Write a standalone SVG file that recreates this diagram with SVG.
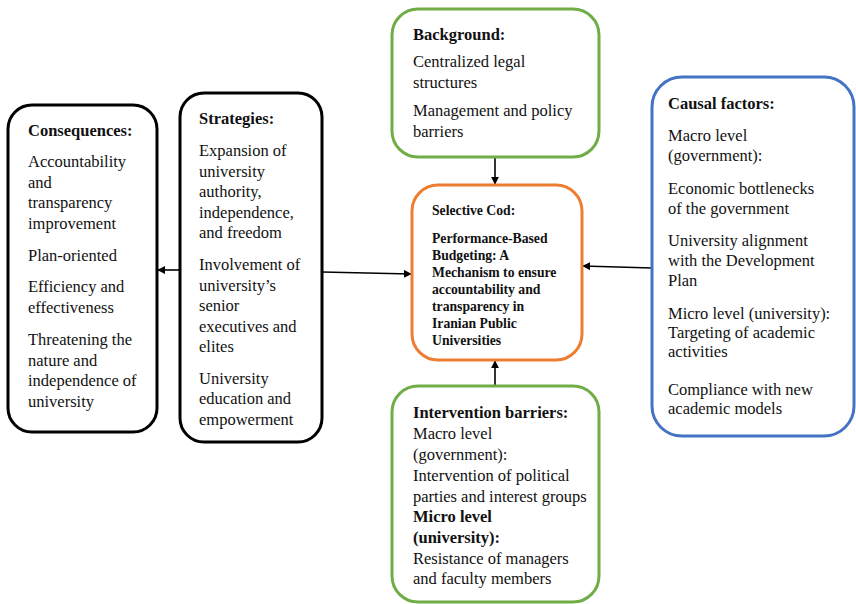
<svg xmlns="http://www.w3.org/2000/svg" width="856" height="604" viewBox="0 0 856 604">
<defs>
<style>
text{font-family:"Liberation Serif","Times New Roman",serif;font-size:16.5px;fill:#111}
.b{font-weight:bold}
.s{font-size:13.7px;font-weight:bold}
.box{fill:#fff;stroke-width:3}
.k{stroke:#000}
.g{stroke:#70AD47}
.o{stroke:#ED7D31}
.bl{stroke:#4472C4}
.c{stroke:#000;stroke-width:1.6;fill:none;marker-end:url(#ah)}
</style>
<marker id="ah" viewBox="0 0 10 10" refX="9" refY="5" markerWidth="5" markerHeight="5" orient="auto" markerUnits="strokeWidth"><path d="M0,0 L10,5 L0,10 z" fill="#000"/></marker>
</defs>
<rect width="856" height="604" fill="#fff"/>
<g id="connectors">
<line class="c" x1="495" y1="158" x2="495" y2="184"/>
<line class="c" x1="495" y1="385" x2="495" y2="361"/>
<line class="c" x1="652" y1="268" x2="583" y2="266"/>
<line class="c" x1="322" y1="272" x2="411" y2="274"/>
<line class="c" x1="180" y1="270" x2="158" y2="270"/>
</g>
<g id="consequences">
<rect class="box k" x="8" y="105" width="149" height="327" rx="24"/>
<text x="28" y="136" class="b">Consequences:</text>
<text x="28" y="167">Accountability</text>
<text x="28" y="188">and</text>
<text x="28" y="208">transparency</text>
<text x="28" y="229">improvement</text>
<text x="28" y="261">Plan-oriented</text>
<text x="28" y="292">Efficiency and</text>
<text x="28" y="313">effectiveness</text>
<text x="28" y="345">Threatening the</text>
<text x="28" y="366">nature and</text>
<text x="28" y="386">independence of</text>
<text x="28" y="407">university</text>
</g>
<g id="strategies">
<rect class="box k" x="180" y="93" width="142" height="349" rx="24"/>
<text x="199" y="124" class="b">Strategies:</text>
<text x="199" y="156">Expansion of</text>
<text x="199" y="177">university</text>
<text x="199" y="197">authority,</text>
<text x="199" y="218">independence,</text>
<text x="199" y="238">and freedom</text>
<text x="199" y="270">Involvement of</text>
<text x="199" y="291">university’s</text>
<text x="199" y="311">senior</text>
<text x="199" y="332">executives and</text>
<text x="199" y="352">elites</text>
<text x="199" y="384">University</text>
<text x="199" y="404">education and</text>
<text x="199" y="425">empowerment</text>
</g>
<g id="background">
<rect class="box g" x="392" y="9" width="207" height="148" rx="26"/>
<text x="413" y="40" class="b">Background:</text>
<text x="413" y="67">Centralized legal</text>
<text x="413" y="88">structures</text>
<text x="413" y="116">Management and policy</text>
<text x="413" y="137">barriers</text>
</g>
<g id="selective">
<rect class="box o" x="412" y="185" width="170" height="175" rx="26"/>
<text x="432" y="215" class="s">Selective Cod:</text>
<text x="432" y="243" class="s">Performance-Based</text>
<text x="432" y="260" class="s">Budgeting: A</text>
<text x="432" y="277" class="s">Mechanism to ensure</text>
<text x="432" y="294" class="s">accountability and</text>
<text x="432" y="311" class="s">transparency in</text>
<text x="432" y="328" class="s">Iranian Public</text>
<text x="432" y="345" class="s">Universities</text>
</g>
<g id="causal">
<rect class="box bl" x="652" y="77" width="202" height="359" rx="30"/>
<text x="668" y="109" class="b">Causal factors:</text>
<text x="668" y="141">Macro level</text>
<text x="668" y="161">(government):</text>
<text x="668" y="194">Economic bottlenecks</text>
<text x="668" y="214">of the government</text>
<text x="668" y="246">University alignment</text>
<text x="668" y="266">with the Development</text>
<text x="668" y="286">Plan</text>
<text x="668" y="319">Micro level (university):</text>
<text x="668" y="338">Targeting of academic</text>
<text x="668" y="357">activities</text>
<text x="668" y="395">Compliance with new</text>
<text x="668" y="414">academic models</text>
</g>
<g id="intervention">
<rect class="box g" x="392" y="386" width="207" height="216" rx="26"/>
<text x="413" y="418" class="b">Intervention barriers:</text>
<text x="413" y="439">Macro level</text>
<text x="413" y="460">(government):</text>
<text x="413" y="481">Intervention of political</text>
<text x="413" y="502">parties and interest groups</text>
<text x="413" y="522" class="b">Micro level</text>
<text x="413" y="543" class="b">(university):</text>
<text x="413" y="564">Resistance of managers</text>
<text x="413" y="584">and faculty members</text>
</g>
</svg>
